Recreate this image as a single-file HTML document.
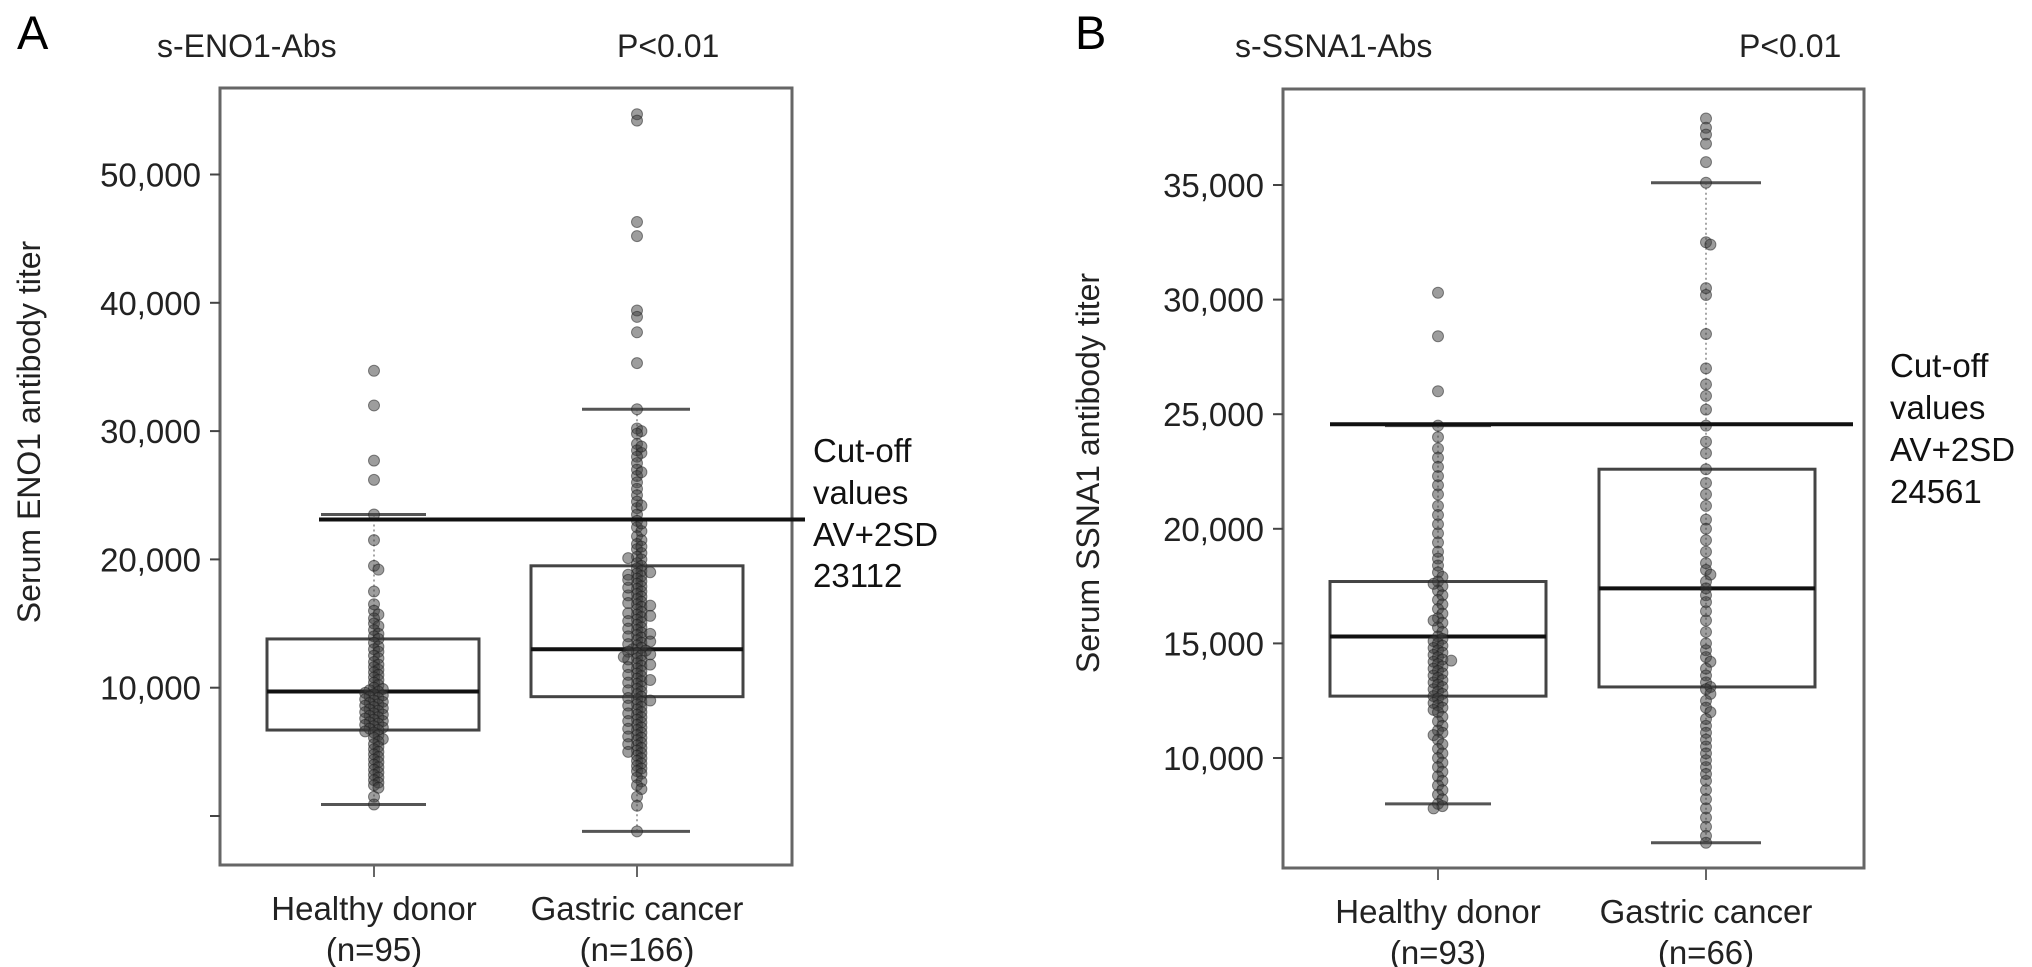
<!DOCTYPE html>
<html><head><meta charset="utf-8"><style>
html,body{margin:0;padding:0;background:#fff;}
svg{display:block;font-family:"Liberation Sans",sans-serif;}
</style></head><body>
<svg id="chart" width="2032" height="967" viewBox="0 0 2032 967">
<g>
 <text x="17" y="49" font-size="47">A</text>
 <text x="157" y="57" font-size="32" fill="#222">s-ENO1-Abs</text>
 <text x="617" y="57" font-size="32" fill="#222">P&lt;0.01</text>
 <text transform="translate(40,432) rotate(-90)" text-anchor="middle" font-size="32" fill="#222">Serum ENO1 antibody titer</text>
 <g id="plotA"></g>
 <g font-size="33" fill="#111">
  <text x="813" y="462">Cut-off</text><text x="813" y="504">values</text><text x="813" y="546">AV+2SD</text><text x="813" y="587">23112</text>
 </g>
</g>
<g>
 <text x="1075" y="49" font-size="47">B</text>
 <text x="1235" y="57" font-size="32" fill="#222">s-SSNA1-Abs</text>
 <text x="1739" y="57" font-size="32" fill="#222">P&lt;0.01</text>
 <text transform="translate(1099,473) rotate(-90)" text-anchor="middle" font-size="32" fill="#222">Serum SSNA1 antibody titer</text>
 <g id="plotB"></g>
 <g font-size="33" fill="#111">
  <text x="1890" y="377">Cut-off</text><text x="1890" y="419">values</text><text x="1890" y="461">AV+2SD</text><text x="1890" y="503">24561</text>
 </g>
</g>
</svg>
<script>
// ---- Panel A data ----
const categoriesA = ["Healthy donor", "Gastric cancer"];
const countsA = ["(n=95)", "(n=166)"];
const ticksA = [10000, 20000, 30000, 40000, 50000];
const tickLabelsA = ["10,000", "20,000", "30,000", "40,000", "50,000"];
const statsHealthyA = [900, 6700, 9700, 13800, 23500];   // min q1 med q3 max
const statsGastricA = [-1200, 9300, 13000, 19500, 31700];
const cutoffA = 23112;
const pointsHealthyA = [34700,32000,27700,26200,23500,21500,19500,19200,17500,16500,16000,15700,15400,15000,14800,14500,14200,14000,13800,13500,13200,13000,12800,12500,12300,12000,11800,11600,11400,11200,11000,10800,10600,10400,10200,10000,9900,9800,9700,9600,9500,9400,9300,9200,9100,9000,8900,8800,8700,8600,8500,8400,8300,8200,8100,8000,7900,7800,7700,7600,7500,7400,7300,7200,7100,7000,6900,6800,6700,6600,6500,6300,6100,6000,5800,5600,5400,5200,5000,4800,4600,4400,4200,4000,3800,3600,3400,3200,3000,2800,2600,2400,2200,1500,900];
const pointsGastricA = [54700,54200,46300,45200,39400,38900,37700,35300,31700,30200,30000,29800,29000,28500,28300,28000,27500,27000,26500,26000,25500,25000,24500,24000,23500,23000,22500,22200,21800,21500,21200,20800,20500,20200,20000,19700,19500,19300,19100,18900,18700,18500,18300,18100,17900,17700,17500,17300,17100,16900,16700,16500,16300,16100,15900,15700,15500,15300,15100,14900,14700,14500,14300,14100,13900,13700,13500,13300,13100,13000,12900,12700,12500,12300,12100,11900,11700,11500,11300,11100,10900,10700,10500,10300,10100,9900,9700,9500,9300,9100,8900,8700,8500,8300,8100,7900,7700,7500,7300,7100,6900,6700,6500,6300,6100,5900,5700,5500,5300,5100,4900,4700,4500,4300,4100,3900,3700,3500,3300,3000,2700,2400,2100,1500,800,-1200,20100,18800,17200,16600,15800,15200,14600,14000,13400,12800,12200,11600,11000,10400,9800,9200,8600,8000,7400,6800,6200,5600,5000,16400,17800,18400,19000,15600,14200,12600,10600,9000,11800,13600,12400,21000,22800,24200,26800,28800];
// ---- Panel B data ----
const categoriesB = ["Healthy donor", "Gastric cancer"];
const countsB = ["(n=93)", "(n=66)"];
const ticksB = [10000, 15000, 20000, 25000, 30000, 35000];
const tickLabelsB = ["10,000", "15,000", "20,000", "25,000", "30,000", "35,000"];
const statsHealthyB = [8000, 12700, 15300, 17700, 24500];
const statsGastricB = [6300, 13100, 17400, 22600, 35100];
const cutoffB = 24561;
const pointsHealthyB = [30300,28400,26000,24500,24000,23500,23100,22700,22300,21900,21500,21000,20600,20200,19800,19400,19000,18700,18400,18100,17900,17700,17500,17300,17100,16900,16700,16500,16300,16100,15900,15700,15500,15300,15200,15100,15000,14900,14800,14700,14600,14500,14400,14300,14200,14100,14000,13900,13800,13700,13600,13500,13400,13300,13200,13100,13000,12900,12800,12700,12600,12500,12400,12300,12200,12100,12000,11800,11600,11400,11200,11100,11000,10800,10600,10400,10200,10000,9800,9600,9400,9200,9000,8800,8600,8400,8200,8000,7900,7800,17600,16000,14250];
const pointsGastricB = [37900,37500,37200,36800,36000,35100,32500,32400,30500,30200,28500,27000,26300,25800,25200,24500,23800,23300,22600,22000,21500,21000,20400,20000,19500,19000,18500,18200,18000,17700,17400,17100,16800,16400,16000,15500,15000,14700,14400,14200,13900,13600,13300,13100,13000,12800,12500,12200,12000,11700,11400,11100,10800,10500,10200,9900,9600,9300,9000,8600,8200,7800,7400,7000,6600,6300];

const NS = "http://www.w3.org/2000/svg";
function mk(parent, tag, attrs) {
  const e = document.createElementNS(NS, tag);
  for (const k in attrs) e.setAttribute(k, attrs[k]);
  parent.appendChild(e);
  return e;
}

function drawPanel(g, cfg) {
  const y = v => cfg.y0 - (v - cfg.v0) * cfg.k;
  const frame = mk(g, "rect", {x: cfg.left, y: cfg.top, width: cfg.right - cfg.left, height: cfg.bottom - cfg.top, fill: "none", stroke: "#666", "stroke-width": 3});
  
  
  cfg.ticks.forEach((t, i) => {
    const yy = y(t);
    const tl = mk(g, "line", {x1: cfg.left - 10, x2: cfg.left, y1: yy, y2: yy, stroke: "#444", "stroke-width": 2});
    
    
    const tx = mk(g, "text", {x: cfg.left - 19, y: yy + 12, "text-anchor": "end", "font-size": 33, fill: "#222"});
    tx.textContent = cfg.tickLabels[i];
    
    
  });
  if (cfg.extraTick !== undefined) {
    const yy = y(cfg.extraTick);
    const tl = mk(g, "line", {x1: cfg.left - 10, x2: cfg.left, y1: yy, y2: yy, stroke: "#444", "stroke-width": 2});
    
    
  }
  cfg.groups.forEach((grp, gi) => {
    const cx = grp.cx;
    const xt = mk(g, "line", {x1: cx, x2: cx, y1: cfg.bottom, y2: cfg.bottom + 12, stroke: "#666", "stroke-width": 2});
    
    
    const l1 = mk(g, "text", {x: cx, y: cfg.bottom + 55, "text-anchor": "middle", "font-size": 33, fill: "#222"});
    l1.textContent = cfg.categories[gi];
    
    
    const l2 = mk(g, "text", {x: cx, y: cfg.bottom + 96, "text-anchor": "middle", "font-size": 33, fill: "#222"});
    l2.textContent = cfg.counts[gi];
    
    
    const s = grp.stats;
    const wl = mk(g, "line", {x1: cx, x2: cx, y1: y(s[4]), y2: y(s[0]), stroke: "#888", "stroke-width": 1.5, "stroke-dasharray": "2 3"});
    
    
    [s[0], s[4]].forEach(v => {
      const c = mk(g, "line", {x1: grp.capL, x2: grp.capR, y1: y(v), y2: y(v), stroke: "#555", "stroke-width": 3});
      
      
    });
    const b = mk(g, "rect", {x: grp.boxL, y: y(s[3]), width: grp.boxR - grp.boxL, height: y(s[1]) - y(s[3]), fill: "none", stroke: "#444", "stroke-width": 3});
    
    
    const m = mk(g, "line", {x1: grp.boxL, x2: grp.boxR, y1: y(s[2]), y2: y(s[2]), stroke: "#111", "stroke-width": 4});
    
    
    const placed = [];
    const r = 5.5;
    grp.points.forEach(v => {
      const py = y(v);
      let off = 0, step = 0;
      const ok = o => placed.every(p => (p[0] - o) ** 2 + (p[1] - py) ** 2 >= (r * 0.9) ** 2);
      while (!ok(off) && step < 8) { step++; off = (step % 2 ? 1 : -1) * Math.ceil(step / 2) * r * 0.8; }
      placed.push([off, py]);
      const c = mk(g, "circle", {cx: cx + off, cy: py, r: r, fill: "rgba(60,60,60,0.5)", stroke: "rgba(30,30,30,0.5)", "stroke-width": 1});
      
      
    });
  });
  const cl = mk(g, "line", {x1: cfg.cutX1, x2: cfg.cutX2, y1: y(cfg.cutoff), y2: y(cfg.cutoff), stroke: "#111", "stroke-width": 4});
  
  
}

drawPanel(document.getElementById("plotA"), {
  left: 220, right: 792, top: 88, bottom: 865,
  y0: 816, v0: 0, k: 0.01283,
  ticks: ticksA, tickLabels: tickLabelsA, extraTick: 0,
  categories: categoriesA, counts: countsA,
  cutoff: cutoffA, cutX1: 319, cutX2: 805,
  groups: [
    {cx: 374, stats: statsHealthyA, points: pointsHealthyA, boxL: 267, boxR: 479, capL: 321, capR: 426},
    {cx: 637, stats: statsGastricA, points: pointsGastricA, boxL: 531, boxR: 743, capL: 582, capR: 690}
  ]
});
drawPanel(document.getElementById("plotB"), {
  left: 1283, right: 1864, top: 89, bottom: 868,
  y0: 758, v0: 10000, k: 0.02292,
  ticks: ticksB, tickLabels: tickLabelsB,
  categories: categoriesB, counts: countsB,
  cutoff: cutoffB, cutX1: 1330, cutX2: 1853,
  groups: [
    {cx: 1438, stats: statsHealthyB, points: pointsHealthyB, boxL: 1330, boxR: 1546, capL: 1385, capR: 1491},
    {cx: 1706, stats: statsGastricB, points: pointsGastricB, boxL: 1599, boxR: 1815, capL: 1651, capR: 1761}
  ]
});
</script>
</body></html>
